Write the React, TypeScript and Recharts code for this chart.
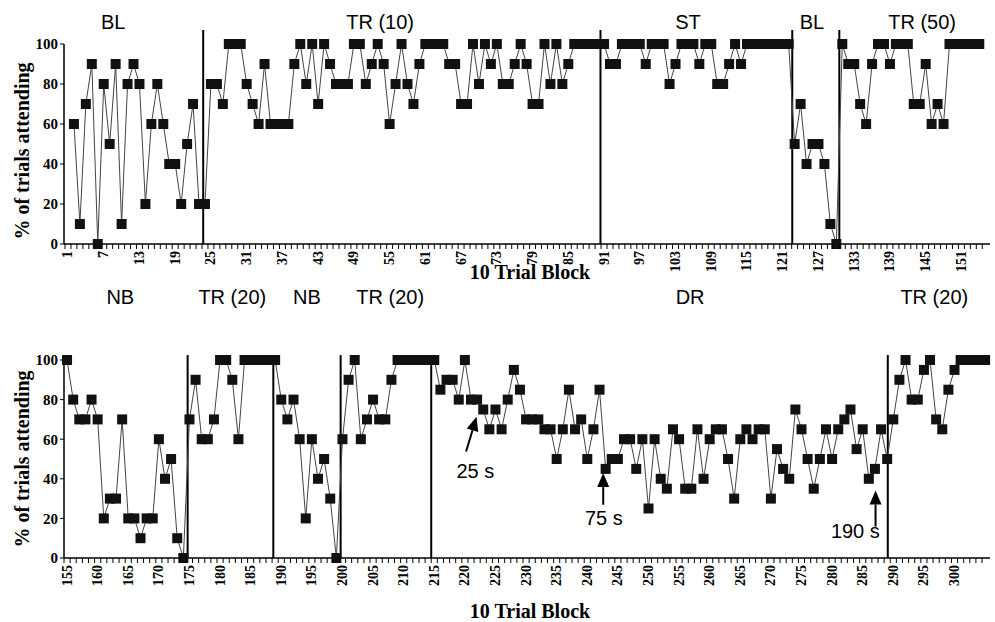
import React from 'react';
import { LineChart, Line, XAxis, YAxis, ReferenceLine, ReferenceDot } from 'recharts';

// ---- top panel: 10-trial blocks 2..154 ----
const topFirstBlock = 2;
const topValues = [
  // BL
  60, 10, 70, 90, 0, 80, 50, 90, 10, 80, 90, 80, 20, 60, 80, 60, 40, 40, 20, 50, 70, 20, 20,
  // TR (10)
  80, 80, 70, 100, 100, 100, 80, 70, 60, 90, 60, 60, 60, 60, 90, 100, 80, 100, 70, 100, 90, 80, 80, 80,
  100, 100, 80, 90, 100, 90, 60, 80, 100, 80, 70, 90, 100, 100, 100, 100, 90, 90, 70, 70, 100, 80, 100,
  90, 100, 80, 80, 90, 100, 90, 70, 70, 100, 80, 100, 80, 90, 100, 100, 100, 100, 100, 100,
  // ST
  90, 90, 100, 100, 100, 100, 90, 100, 100, 100, 80, 90, 100, 100, 100, 90, 100, 100, 80, 80, 90, 100, 90,
  100, 100, 100, 100, 100, 100, 100, 100,
  // BL
  50, 70, 40, 50, 50, 40, 10, 0,
  // TR (50)
  100, 90, 90, 70, 60, 90, 100, 100, 90, 100, 100, 100, 70, 70, 90, 60, 70, 60, 100, 100, 100, 100, 100, 100,
];
const topTickLabels = [1, 7, 13, 19, 25, 31, 37, 43, 49, 55, 61, 67, 73, 79, 85, 91, 97, 103, 109, 115, 121, 127, 133, 139, 145, 151];
const topPhaseLines = [23.7, 90.4, 122.6, 130.5];
const topPhaseNames = ['BL', 'TR (10)', 'ST', 'BL', 'TR (50)'];

// ---- bottom panel: blocks 155..305 ----
const bottomFirstBlock = 155;
const bottomValues = [
  // NB
  100, 80, 70, 70, 80, 70, 20, 30, 30, 70, 20, 20, 10, 20, 20, 60, 40, 50, 10, 0,
  // TR (20)
  70, 90, 60, 60, 70, 100, 100, 90, 60, 100, 100, 100, 100, 100, 100,
  // NB
  80, 70, 80, 60, 20, 60, 40, 50, 30, 0,
  // TR (20)
  60, 90, 100, 60, 70, 80, 70, 70, 90, 100, 100, 100, 100, 100, 100, 100,
  // DR
  85, 90, 90, 80, 100, 80, 80, 75, 65, 75, 65, 80, 95, 85, 70, 70, 70, 65, 65, 50, 65, 85, 65, 70, 50, 65, 85, 45,
  50, 50, 60, 60, 45, 60, 25, 60, 40, 35, 65, 60, 35, 35, 65, 40, 60, 65, 65, 50, 30, 60, 65, 60, 65, 65, 30, 55, 45, 40,
  75, 65, 50, 35, 50, 65, 50, 65, 70, 75, 55, 65, 40, 45, 65, 50,
  // TR (20)
  70, 90, 100, 80, 80, 95, 100, 70, 65, 85, 95, 100, 100, 100, 100, 100,
];
const bottomTickLabels = [155, 160, 165, 170, 175, 180, 185, 190, 195, 200, 205, 210, 215, 220, 225, 230, 235, 240, 245, 250, 255, 260, 265, 270, 275, 280, 285, 290, 295, 300];
const bottomPhaseLines = [174.7, 188.7, 199.7, 214.5, 289.1];
const bottomPhaseNames = ['NB', 'TR (20)', 'NB', 'TR (20)', 'DR', 'TR (20)'];

const yTicks = [0, 20, 40, 60, 80, 100];

// where the phase names sit (block, value)
const topNamePos = [[8.6, 111], [53.4, 111], [105.1, 111], [125.9, 111], [144.4, 111]];
const bottomNamePos = [[163.7, 132], [182, 132], [194.2, 132], [207.8, 132], [256.8, 132], [296.7, 132]];

// DR delay annotations
const delayNotes = [
  { text: '25 s', tail: [220.2, 53.8], tip: [221.9, 71.3], at: [221.7, 40.6] },
  { text: '75 s', tail: [242.6, 26.9], tip: [242.6, 42.9], at: [242.7, 16.8] },
  { text: '190 s', tail: [287.1, 15.9], tip: [287.1, 34.1], at: [283.8, 10.2] },
];

const serif = '"Liberation Serif", "Times New Roman", serif';
const sans = '"Liberation Sans", Arial, sans-serif';

const topData = topValues.map((v, i) => ({ block: topFirstBlock + i, pct: v }));
const bottomData = bottomValues.map((v, i) => ({ block: bottomFirstBlock + i, pct: v }));

function halfTicks(from: number, to: number) {
  const out: number[] = [];
  for (let t = from; t <= to; t += 1) out.push(t + 0.5);
  return out;
}

function BlockTick(props: any) {
  const { x, y, payload, labels } = props;
  const v = payload.value;
  if (labels.includes(v)) {
    return (
      <text
        x={x}
        y={y + 2}
        transform={`rotate(-90, ${x}, ${y + 2})`}
        textAnchor="end"
        dominantBaseline="central"
        fontFamily={serif}
        fontWeight="bold"
        fontSize={14}
        fill="#000"
      >
        {v}
      </text>
    );
  }
  return <line x1={x} x2={x} y1={y - 5} y2={y} stroke="#000" strokeWidth={1} />;
}

function SquareDot(props: any) {
  const { cx, cy, index } = props;
  return <rect key={`sq-${index}`} x={cx - 5} y={cy - 5} width={10} height={10} fill="#111" />;
}

function NameLabel(props: any) {
  return (
    <text x={props.cx} y={props.cy} textAnchor="middle" dominantBaseline="central" fontFamily={sans} fontSize={20} fill="#000">
      {props.text}
    </text>
  );
}

function Arrow(props: any) {
  const { x1, y1, x2, y2 } = props;
  const dx = x2 - x1;
  const dy = y2 - y1;
  const len = Math.sqrt(dx * dx + dy * dy);
  const ux = dx / len;
  const uy = dy / len;
  const bx = x2 - ux * 14;
  const by = y2 - uy * 14;
  return (
    <g>
      <line x1={x1} y1={y1} x2={bx} y2={by} stroke="#000" strokeWidth={2} />
      <polygon points={`${x2},${y2} ${bx - uy * 6},${by + ux * 6} ${bx + uy * 6},${by - ux * 6}`} fill="#000" />
    </g>
  );
}

function Panel({ data, domain, tickLabels, phaseLines, lineTop, names, namePos, height, top, axisHeight, notes }: any) {
  const ticks = [...halfTicks(Math.floor(domain[0]), Math.floor(domain[1]) - 1), ...tickLabels];
  return (
    <LineChart width={995} height={height} data={data} margin={{ top, right: 5, bottom: 0, left: 0 }}>
      <XAxis
        type="number"
        dataKey="block"
        domain={domain}
        ticks={ticks}
        interval={0}
        tickSize={5}
        tickMargin={0}
        tickLine={false}
        axisLine={{ stroke: '#000', strokeWidth: 1.5 }}
        tick={(p: any) => <BlockTick {...p} labels={tickLabels} />}
        height={axisHeight}
      />
      <YAxis
        type="number"
        domain={[0, 100]}
        ticks={yTicks}
        interval={0}
        width={64}
        tickSize={4}
        tickMargin={2}
        axisLine={{ stroke: '#000', strokeWidth: 1.5 }}
        tickLine={{ stroke: '#000' }}
        tick={{ fontFamily: serif, fontWeight: 'bold', fontSize: 15, fill: '#000' }}
      />
      {phaseLines.map((b: number) => (
        <ReferenceLine
          key={`pl-${b}`}
          segment={[{ x: b, y: 0 }, { x: b, y: lineTop }]}
          stroke="#000"
          strokeWidth={2}
          ifOverflow="visible"
        />
      ))}
      {names.map((n: string, i: number) => (
        <ReferenceDot
          key={`nm-${i}`}
          x={namePos[i][0]}
          y={namePos[i][1]}
          r={0}
          ifOverflow="visible"
          shape={(p: any) => <NameLabel {...p} text={n} />}
        />
      ))}
      {notes.map((a: any) => (
        <ReferenceLine
          key={`ar-${a.text}`}
          segment={[{ x: a.tail[0], y: a.tail[1] }, { x: a.tip[0], y: a.tip[1] }]}
          ifOverflow="visible"
          shape={(p: any) => <Arrow {...p} />}
        />
      ))}
      {notes.map((a: any) => (
        <ReferenceDot
          key={`tx-${a.text}`}
          x={a.at[0]}
          y={a.at[1]}
          r={0}
          ifOverflow="visible"
          shape={(p: any) => (
            <text x={p.cx} y={p.cy} textAnchor="middle" fontFamily={sans} fontSize={20} fill="#000">
              {a.text}
            </text>
          )}
        />
      ))}
      <Line
        type="linear"
        dataKey="pct"
        stroke="#444"
        strokeWidth={1}
        dot={(p: any) => <SquareDot {...p} />}
        activeDot={false}
        isAnimationActive={false}
      />
    </LineChart>
  );
}

export default function App() {
  return (
    <div style={{ position: 'absolute', left: 0, top: 0, width: 995, height: 622, background: '#fff' }}>
      <div style={{ position: 'absolute', left: 0, top: 0 }}>
        <Panel
          data={topData}
          domain={[0.33, 155.8]}
          tickLabels={topTickLabels}
          phaseLines={topPhaseLines}
          lineTop={107}
          names={topPhaseNames}
          namePos={topNamePos}
          height={290}
          top={44}
          axisHeight={46}
          notes={[]}
        />
      </div>
      <div style={{ position: 'absolute', left: 0, top: 270 }}>
        <Panel
          data={bottomData}
          domain={[154.5, 305.8]}
          tickLabels={bottomTickLabels}
          phaseLines={bottomPhaseLines}
          lineTop={102.5}
          names={bottomPhaseNames}
          namePos={bottomNamePos}
          height={352}
          top={90}
          axisHeight={64}
          notes={delayNotes}
        />
      </div>
      <svg width={995} height={622} style={{ position: 'absolute', left: 0, top: 0, pointerEvents: 'none' }}>
        <text x={22} y={151} transform="rotate(-90, 22, 151)" textAnchor="middle" dominantBaseline="central" fontFamily={serif} fontWeight="bold" fontSize={20} fill="#000">
          % of trials attending
        </text>
        <text x={22} y={459} transform="rotate(-90, 22, 459)" textAnchor="middle" dominantBaseline="central" fontFamily={serif} fontWeight="bold" fontSize={20} fill="#000">
          % of trials attending
        </text>
        <text x={530} y={279} textAnchor="middle" fontFamily={serif} fontWeight="bold" fontSize={20} fill="#000">
          10 Trial Block
        </text>
        <text x={530} y={618} textAnchor="middle" fontFamily={serif} fontWeight="bold" fontSize={20} fill="#000">
          10 Trial Block
        </text>
      </svg>
    </div>
  );
}
